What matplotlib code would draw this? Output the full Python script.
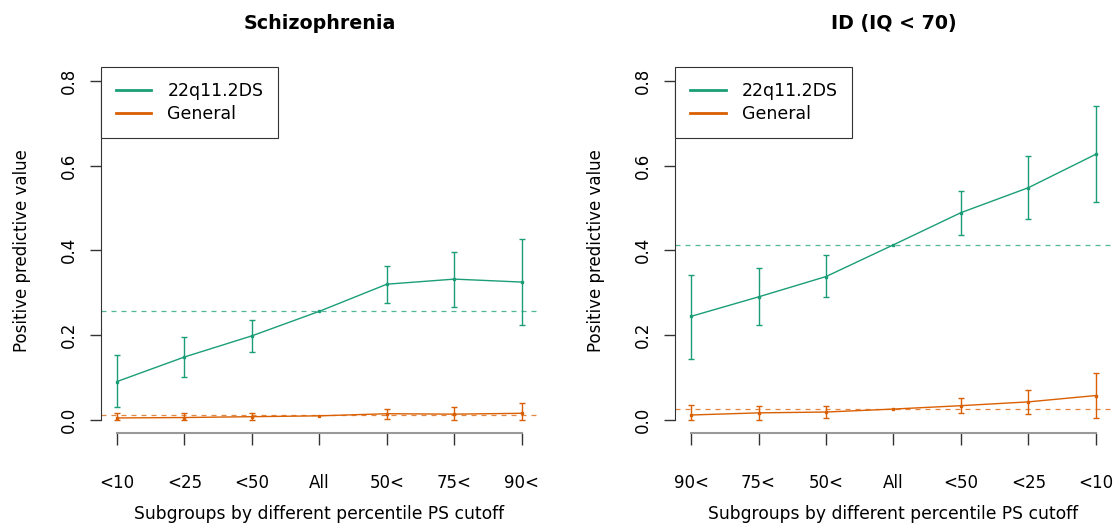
import numpy as np
import matplotlib
matplotlib.use("Agg")
import matplotlib.pyplot as plt

plt.rcParams['font.family'] = ['DejaVu Sans']

green = "#1B9E77"
orange = "#D95F02"

# Schizophrenia panel
scz_labels = ["<10", "<25", "<50", "All", "50<", "75<", "90<"]
scz_22q = [0.090, 0.148, 0.198, 0.256, 0.320, 0.332, 0.325]
scz_22q_lo = [0.031, 0.100, 0.159, np.nan, 0.275, 0.266, 0.223]
scz_22q_hi = [0.152, 0.195, 0.235, np.nan, 0.364, 0.397, 0.426]
scz_gen = [0.004, 0.005, 0.007, 0.009, 0.014, 0.013, 0.015]
scz_gen_lo = [0.000, 0.000, 0.000, np.nan, 0.001, -0.001, -0.001]
scz_gen_hi = [0.016, 0.016, 0.016, np.nan, 0.025, 0.031, 0.040]
scz_22q_all = 0.256
scz_gen_all = 0.010

# ID panel
id_labels = ["90<", "75<", "50<", "All", "<50", "<25", "<10"]
id_22q = [0.244, 0.290, 0.338, 0.413, 0.489, 0.548, 0.627]
id_22q_lo = [0.143, 0.224, 0.290, np.nan, 0.436, 0.474, 0.515]
id_22q_hi = [0.342, 0.358, 0.388, np.nan, 0.540, 0.622, 0.740]
id_gen = [0.011, 0.016, 0.018, 0.025, 0.033, 0.042, 0.057]
id_gen_lo = [0.000, 0.000, 0.004, np.nan, 0.016, 0.013, 0.004]
id_gen_hi = [0.035, 0.033, 0.033, np.nan, 0.050, 0.071, 0.111]
id_22q_all = 0.413
id_gen_all = 0.025

fig = plt.figure(figsize=(11.16, 5.27), dpi=100)
ax1 = fig.add_axes([0.0903, 0.178, 0.3918, 0.694])
ax2 = fig.add_axes([0.6047, 0.178, 0.3918, 0.694])


def panel(ax, title, labels, g, glo, ghi, o, olo, ohi, gall, oall):
    x = np.arange(1, len(labels) + 1)
    for vals, lo, hi, col, name, ref in [(g, glo, ghi, green, "22q11.2DS", gall),
                                         (o, olo, ohi, orange, "General", oall)]:
        vals = np.array(vals)
        lo = np.array(lo)
        hi = np.array(hi)
        ok = ~np.isnan(lo)
        ax.errorbar(x[ok], vals[ok], yerr=[vals[ok] - lo[ok], hi[ok] - vals[ok]],
                    fmt="none", ecolor=col, elinewidth=1, capsize=2.5, capthick=1)
        ax.plot(x, vals, color=col, lw=1, marker="s", ms=2, label=name)
        ax.axhline(ref, color=col, lw=0.9, ls=(0, (4, 4)), alpha=0.75)
    ax.set_xlim(0.76, 7.24)
    ax.set_ylim(-0.032, 0.832)
    ax.set_xticks(x)
    ax.set_xticklabels(labels, fontsize=12)
    ax.set_yticks([0, 0.2, 0.4, 0.6, 0.8])
    ax.set_yticklabels(["0.0", "0.2", "0.4", "0.6", "0.8"], rotation=90,
                       va="center", fontsize=12)
    ax.spines["top"].set_visible(False)
    ax.spines["right"].set_visible(False)
    ax.spines["left"].set_bounds(0, 0.8)
    ax.spines["left"].set_color("#333333")
    ax.spines["bottom"].set_bounds(1, 7)
    ax.spines["bottom"].set_color("#999999")
    ax.spines["bottom"].set_linewidth(1.5)
    ax.tick_params(axis="x", length=8.6, width=1, color="#333333", pad=21)
    ax.tick_params(axis="y", length=7.6, width=1, color="#333333", pad=9)
    ax.set_xlabel("Subgroups by different percentile PS cutoff", fontsize=12.3, labelpad=9)
    ax.set_ylabel("Positive predictive value", fontsize=12, labelpad=21)
    ax.set_title(title, fontsize=13.7, fontweight="bold", pad=28)
    leg = ax.legend(loc="upper left", borderaxespad=0, fancybox=False,
                    edgecolor="#333333", framealpha=1, fontsize=12.5,
                    handlelength=2.07, handletextpad=0.92, borderpad=0.85,
                    labelspacing=0.3)
    for h in leg.get_lines():
        h.set_linewidth(2)
        h.set_marker("")
    leg.get_frame().set_linewidth(0.8)


panel(ax1, "Schizophrenia", scz_labels, scz_22q, scz_22q_lo, scz_22q_hi,
      scz_gen, scz_gen_lo, scz_gen_hi, scz_22q_all, scz_gen_all)
panel(ax2, "ID (IQ < 70)", id_labels, id_22q, id_22q_lo, id_22q_hi,
      id_gen, id_gen_lo, id_gen_hi, id_22q_all, id_gen_all)

plt.savefig("out.png", dpi=100)
